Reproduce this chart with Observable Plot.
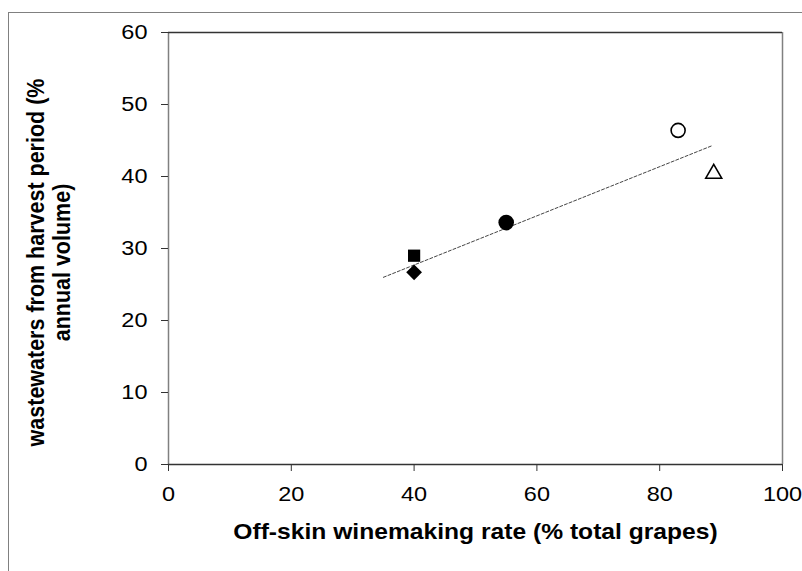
<!DOCTYPE html>
<html><head><meta charset="utf-8">
<script src="https://cdn.jsdelivr.net/npm/d3@7"></script>
<script src="https://cdn.jsdelivr.net/npm/@observablehq/plot@0.6"></script>
<style>
body{margin:0;background:#fff;}
#wrap{position:relative;width:802px;height:571px;overflow:hidden;background:#fff;}
#border{position:absolute;left:8px;top:12px;width:900px;height:900px;border-left:1.5px solid #808080;border-top:1.5px solid #808080;}
#chart{position:absolute;left:0;top:0;}
</style></head><body>
<div id="wrap"><div id="border"></div><div id="chart"></div></div>
<script>
// Data
const offSkinRate = [40, 40, 55, 83, 88.8];
const harvestWastewater = [29.0, 26.7, 33.6, 46.4, 40.4];
const markerSymbols = ["square", "diamond2", "circle", "circle", "triangle2"];
const markerFilled = [true, true, true, false, false];
const trendX = [35, 88.6];
const trendY = [26.0, 44.3];
const xTicks = [0, 20, 40, 60, 80, 100];
const yTicks = [0, 10, 20, 30, 40, 50, 60];
const xLabel = "Off-skin winemaking rate (% total grapes)";
const yLabel = "wastewaters from harvest period (%\nannual volume)";

const points = offSkinRate.map((x, i) => ({x, y: harvestWastewater[i], symbol: markerSymbols[i], filled: markerFilled[i]}));
const trend = trendX.map((x, i) => ({x, y: trendY[i]}));

const sizeFor = {square: 6.9, diamond2: 7.1, circle: 7.8, triangle2: 7.6};

const markMarks = [];
for (const p of points) {
  const r = p.symbol === "circle" && !p.filled ? 7 : sizeFor[p.symbol];
  markMarks.push(Plot.dot([p], {
    x: "x", y: "y", symbol: p.symbol, r,
    fill: p.filled ? "#000" : "#fff",
    stroke: "#000",
    strokeWidth: p.filled ? 0 : 1.6
  }));
}

const chart = Plot.plot({
  width: 802,
  height: 571,
  marginLeft: 168,
  marginRight: 20,
  marginTop: 32,
  marginBottom: 107,
  style: {fontFamily: "'Liberation Sans', Arial, sans-serif", color: "#000", background: "transparent"},
  x: {domain: [0, 100]},
  y: {domain: [0, 60]},
  marks: [
    Plot.ruleX([0], {stroke: "#808080", strokeWidth: 1.5}),
    Plot.ruleX([100], {stroke: "#808080", strokeWidth: 1.5}),
    Plot.ruleY([60], {stroke: "#333", strokeWidth: 1.5}),
    Plot.ruleY([0], {stroke: "#333", strokeWidth: 1.5}),
    Plot.axisX(xTicks, {tickSize: 7, tickPadding: 15, fontSize: 21, stroke: "#333", label: null, tickFormat: d => String(d)}),
    Plot.axisY(yTicks, {tickSize: 7, tickPadding: 14, fontSize: 21, stroke: "#333", label: null, tickFormat: d => String(d)}),
    Plot.line(trend, {x: "x", y: "y", stroke: "#444", strokeWidth: 1, strokeDasharray: "3,2"}),
    ...markMarks,
    Plot.text([xLabel], {frameAnchor: "bottom", dy: 67, fontSize: 22, fontWeight: "bold", text: d => d, textAnchor: "middle", lineAnchor: "middle"}),
    Plot.text([yLabel], {frameAnchor: "left", dx: -120, dy: 14, rotate: -90, fontSize: 21.5, fontWeight: "bold", text: d => d, textAnchor: "middle", lineAnchor: "middle", lineHeight: 1.1})
  ]
});

// The reference's lettering is stretched horizontally on screen; mimic that.
const stretchX = 1.12;
chart.querySelectorAll("text").forEach(t => {
  const tr = t.getAttribute("transform");
  if (tr && tr.startsWith("translate(")) {
    const k = tr.indexOf(")") + 1;
    t.setAttribute("transform", tr.slice(0, k) + ` scale(${stretchX},1)` + tr.slice(k));
  } else {
    const x = +(t.getAttribute("x") || 0), y = +(t.getAttribute("y") || 0);
    t.removeAttribute("x"); t.removeAttribute("y");
    t.setAttribute("transform", `translate(${x},${y}) scale(${stretchX},1)` + (tr ? " " + tr : ""));
  }
});
document.getElementById("chart").appendChild(chart);
</script>
</body></html>
